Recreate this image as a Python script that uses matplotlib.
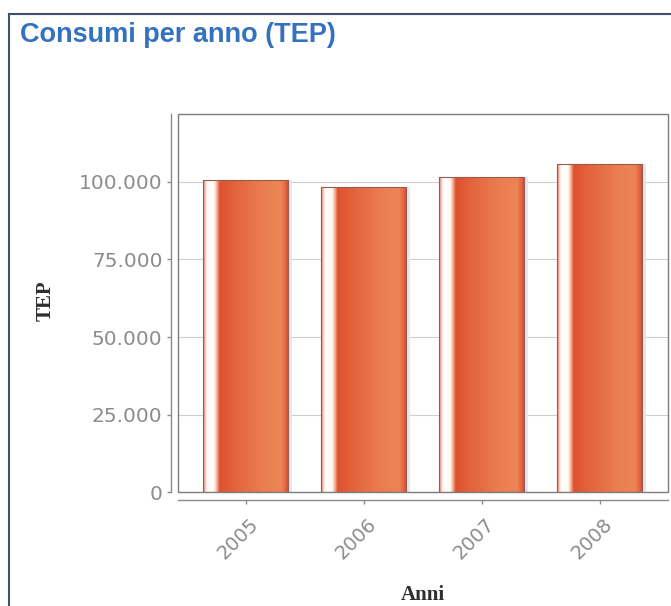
import numpy as np
import matplotlib
matplotlib.use("Agg")
import matplotlib.pyplot as plt
from matplotlib.colors import LinearSegmentedColormap
from matplotlib.patches import Rectangle
from matplotlib.lines import Line2D
from matplotlib.ticker import FuncFormatter
from matplotlib.transforms import ScaledTranslation

# consumption per year, in TEP
anni = ["2005", "2006", "2007", "2008"]
consumi = [100500, 98400, 101400, 105700]
y_ticks = [0, 25000, 50000, 75000, 100000]

title = "Consumi per anno (TEP)"
x_label = "Anni"
y_label = "TEP"

# horizontal gradient used to fill each bar (white highlight on the left)
bar_cmap = LinearSegmentedColormap.from_list("bar_grad", [
    (0.00, (0.84, 0.40, 0.32)),
    (0.025, (0.97, 0.80, 0.74)),
    (0.05, (1.00, 1.00, 1.00)),
    (0.13, (1.00, 0.98, 0.96)),
    (0.165, (0.95, 0.68, 0.58)),
    (0.195, (0.87, 0.32, 0.18)),
    (0.35, (0.89, 0.38, 0.23)),
    (0.70, (0.92, 0.49, 0.31)),
    (0.92, (0.93, 0.52, 0.34)),
    (0.97, (0.90, 0.40, 0.26)),
    (1.00, (0.80, 0.32, 0.24)),
])


def fmt_it(v, pos):
    return f"{v:,.0f}".replace(",", ".")


fig = plt.figure(figsize=(6.71, 6.06), dpi=100, facecolor="white")
ax = fig.add_axes([0.2648, 0.1876, 0.7311, 0.6238])

x = np.arange(len(anni))
width = 0.72

# faint shadow behind the bars
ax.bar(x + 0.035, consumi, width=width, color="#e3e6f2", zorder=1)
bars = ax.bar(x, consumi, width=width, facecolor="none",
              edgecolor="#9a5a4e", linewidth=0.8, zorder=3)

grad = np.linspace(0, 1, 256).reshape(1, -1)
for b in bars:
    im = ax.imshow(grad, cmap=bar_cmap, aspect="auto", interpolation="bilinear",
                   extent=(b.get_x(), b.get_x() + b.get_width(), 0, b.get_height()),
                   zorder=2)
    im.set_clip_path(b)
ax.set_xlim(-0.577, 3.58)
ax.set_ylim(0, 121700)

ax.grid(axis="y", color="#cfcfcf", linewidth=0.8, zorder=0)
ax.set_axisbelow(True)

# plot box plus detached axis lines
for side in ("top", "right"):
    ax.spines[side].set_visible(False)
ax.spines["left"].set_position(("outward", 5))
ax.spines["bottom"].set_position(("outward", 5.5))
for side in ("left", "bottom"):
    ax.spines[side].set_color("#8a8a8a")
    ax.spines[side].set_linewidth(1.0)
ax.add_patch(Rectangle((0, 0), 1, 1, transform=ax.transAxes, fill=False,
                       edgecolor="#7d7d7d", linewidth=1.0, clip_on=False,
                       zorder=5))

ax.tick_params(axis="y", colors="#8a8a8a", labelcolor="#8c8c8c", length=3,
               width=1, pad=3, labelsize=14.5)
ax.tick_params(axis="x", colors="#8a8a8a", labelcolor="#8c8c8c", length=3,
               width=1, pad=12, labelsize=14)

ax.set_yticks(y_ticks)
ax.yaxis.set_major_formatter(FuncFormatter(fmt_it))
ax.set_xticks(x)
ax.set_xticklabels(anni, rotation=45, ha="right", va="center",
                   rotation_mode="anchor", fontsize=14, color="#8c8c8c")
shift = ScaledTranslation(0.10, 0, fig.dpi_scale_trans)
for lbl in ax.get_xticklabels():
    lbl.set_transform(lbl.get_transform() + shift)

ax.set_ylabel(y_label, family="Liberation Serif", fontweight="bold",
              fontsize=15, color="#2e2e2e")
ax.yaxis.label.set_ha("center")
ax.yaxis.label.set_va("center")
ax.yaxis.set_label_coords(-0.2695, 0.506)
ax.set_xlabel(x_label, family="Liberation Serif", fontweight="bold",
              fontsize=15, color="#2e2e2e")
ax.xaxis.label.set_va("center")
ax.xaxis.set_label_coords(0.499, -0.2717)

fig.text(20 / 671, 1 - 42 / 606, title, family="Liberation Sans",
         fontweight="bold", fontsize=19.5, color="#3472c0", ha="left",
         va="baseline")

# panel frame (top and left edges visible)
fig.add_artist(Line2D([9 / 671, 1.0], [1 - 14 / 606, 1 - 14 / 606],
                      transform=fig.transFigure, color="#44506e", lw=1.5))
fig.add_artist(Line2D([9 / 671, 9 / 671], [0.0, 1 - 14 / 606],
                      transform=fig.transFigure, color="#44506e", lw=1.5))

fig.savefig("out.png", dpi=100, facecolor=fig.get_facecolor())
